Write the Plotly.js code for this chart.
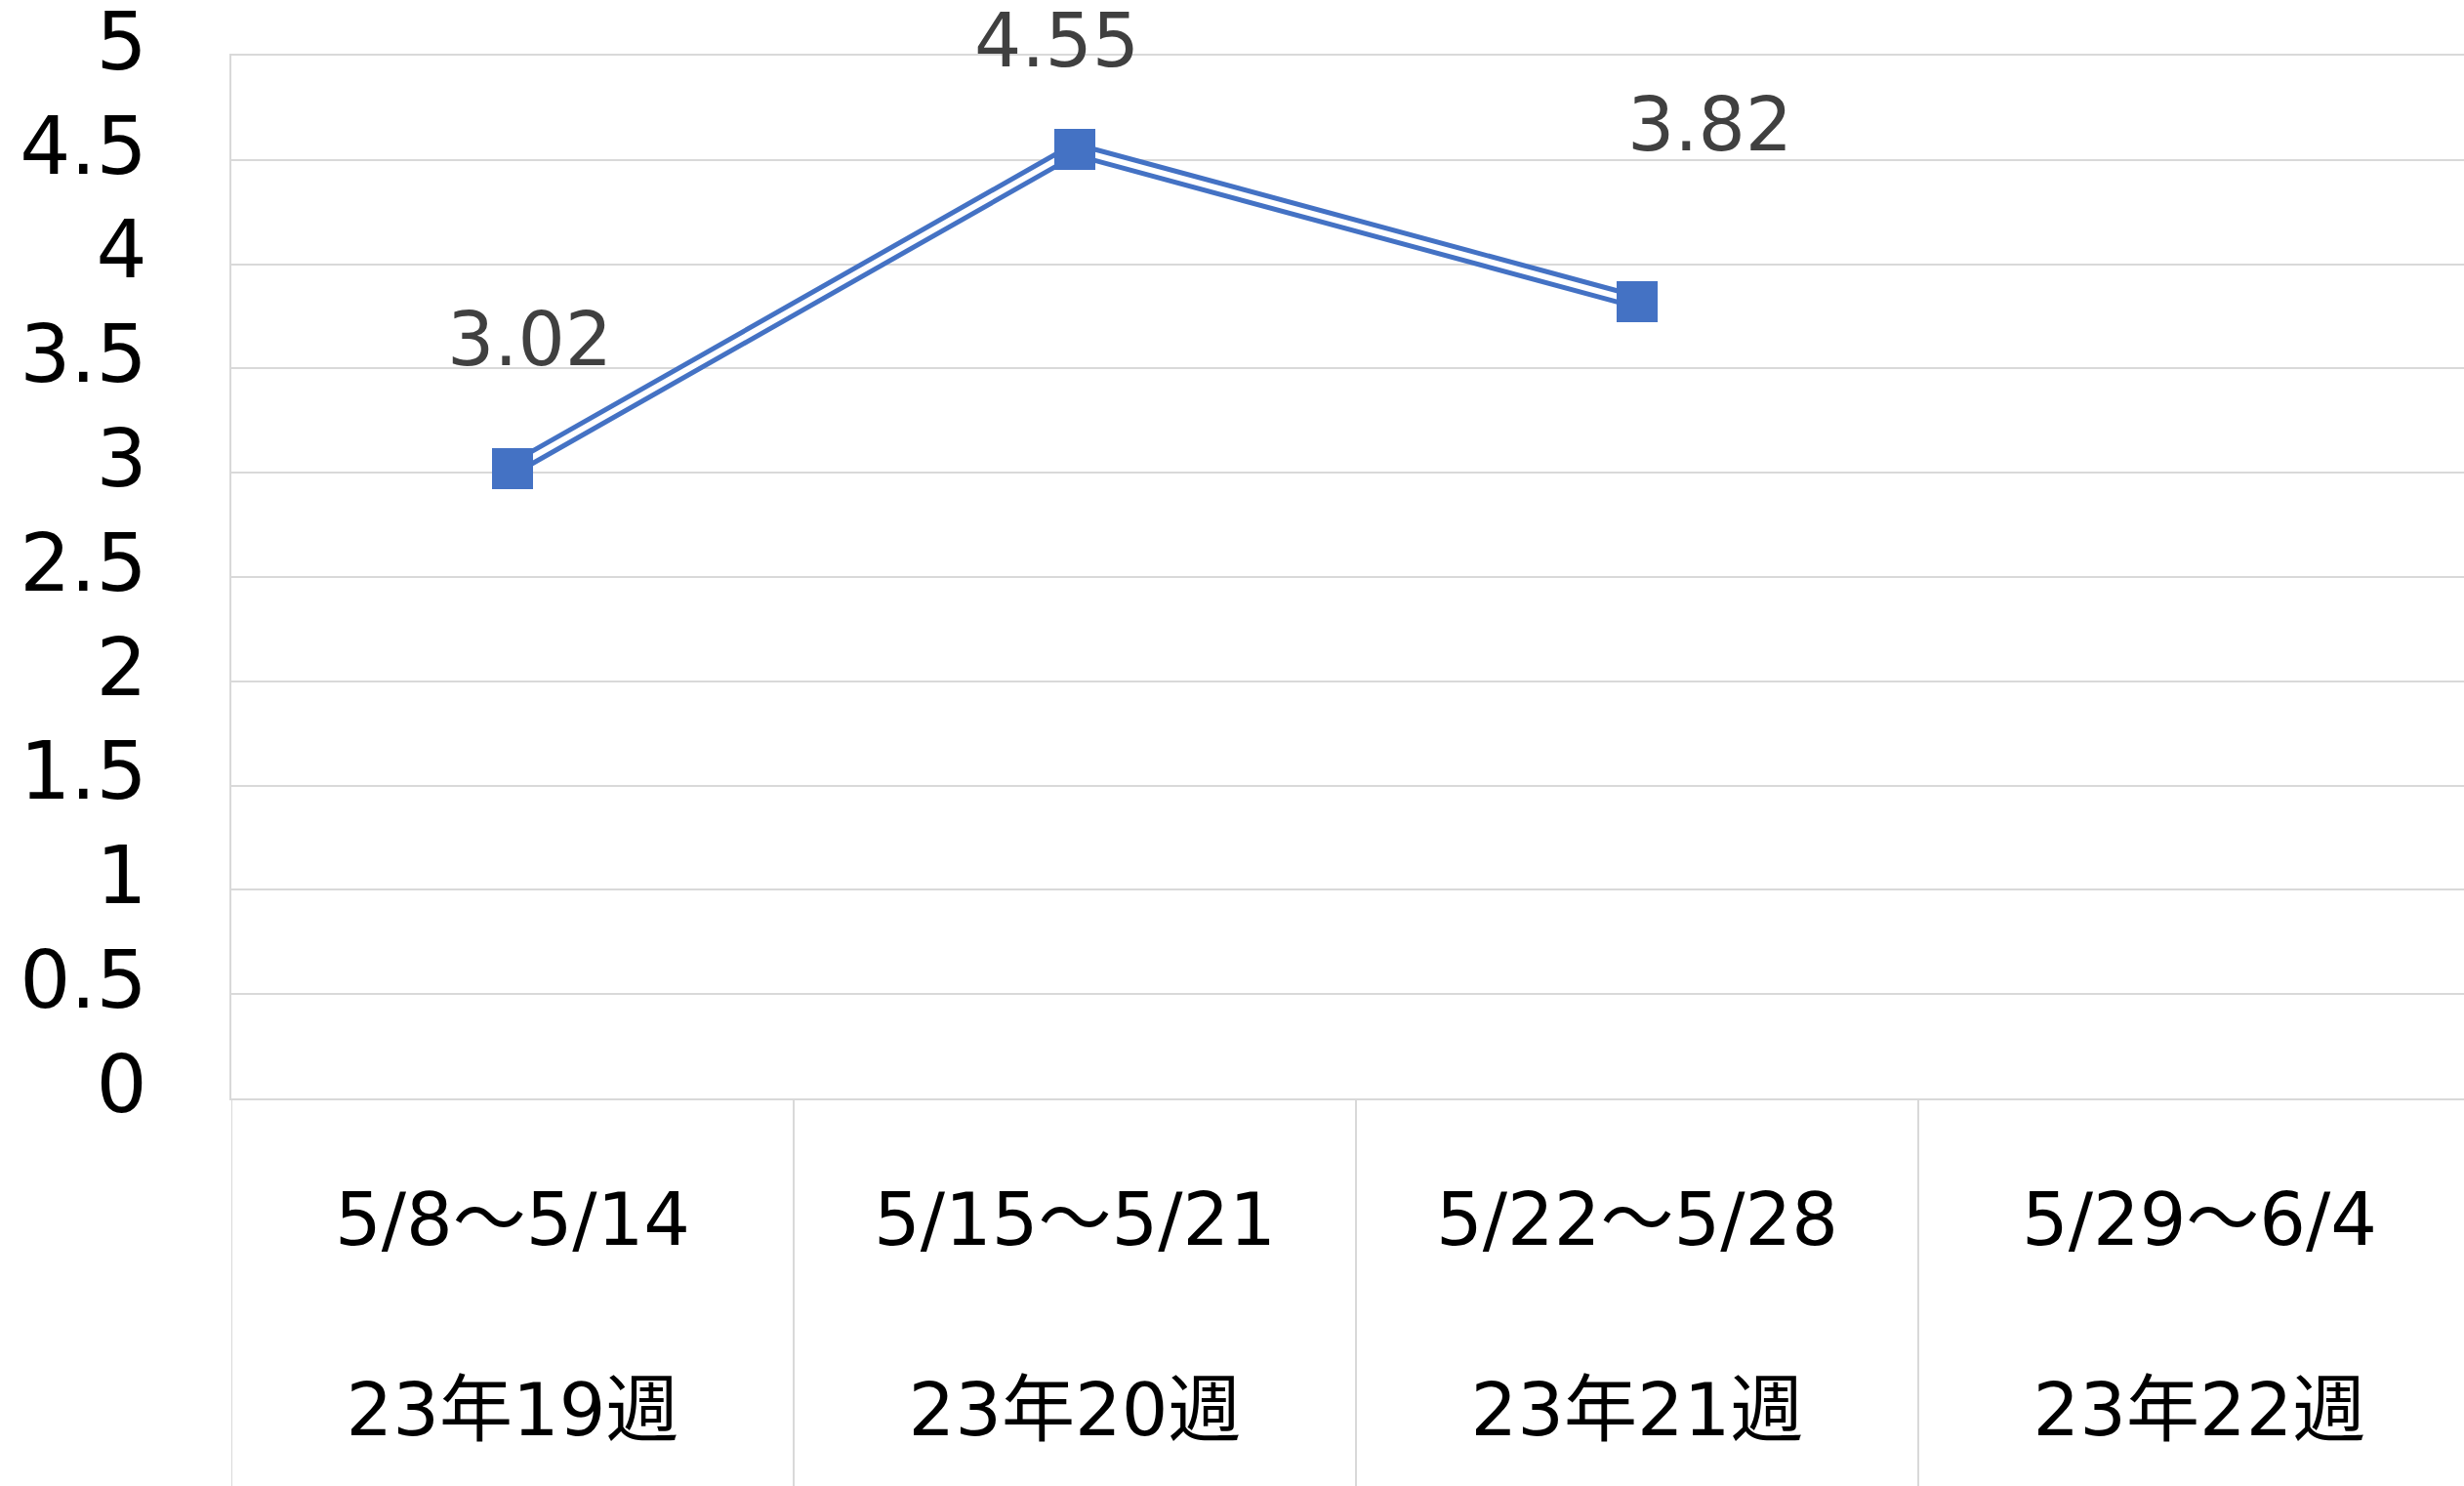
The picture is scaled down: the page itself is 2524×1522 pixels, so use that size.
<!DOCTYPE html>
<html>
<head>
<meta charset="utf-8">
<script src="https://cdn.plot.ly/plotly-3.0.1.min.js"></script>
<style>
html,body{margin:0;padding:0;overflow:hidden;background:#fff;}
#chart{width:2524px;height:1522px;}
</style>
</head>
<body>
<div id="chart"></div>
<script>
// ---- data ----
const weeks = ['5/8～5/14', '5/15～5/21', '5/22～5/28', '5/29～6/4'];
const weekNums = ['23年19週', '23年20週', '23年21週', '23年22週'];
const values = [3.02, 4.55, 3.82, null];
const valueLabels = ['3.02', '4.55', '3.82', ''];
const yTickVals = [0, 0.5, 1, 1.5, 2, 2.5, 3, 3.5, 4, 4.5, 5];
const yTickText = ['0', '0.5', '1', '1.5', '2', '2.5', '3', '3.5', '4', '4.5', '5'];

// ---- styles ----
const BLUE = '#4472C4';
const GRID = '#d9d9d9';
const labelOffsets = [[17, 132], [-19, 112], [75, 182]];

const traces = [
  {x: weeks, y: values, type: 'scatter', mode: 'lines',
   line: {color: BLUE, width: 16}, hoverinfo: 'skip', showlegend: false},
  {x: weeks, y: values, type: 'scatter', mode: 'lines',
   line: {color: '#ffffff', width: 6}, hoverinfo: 'skip', showlegend: false},
  {x: weeks, y: values, type: 'scatter', mode: 'markers',
   marker: {symbol: 'square', size: 42, color: BLUE, line: {width: 0}}, showlegend: false}
];

const annotations = [];
values.forEach((v, i) => {
  if (v === null) return;
  annotations.push({
    x: weeks[i], y: v, xref: 'x', yref: 'y', text: valueLabels[i], showarrow: false,
    xshift: labelOffsets[i][0], yshift: labelOffsets[i][1],
    font: {family: 'DejaVu Sans', size: 76, color: '#404040'}
  });
});

const shapes = [];
for (let i = 0; i < weeks.length; i++) {
  shapes.push({type: 'line', xref: 'x', yref: 'paper', x0: i - 0.5, x1: i - 0.5, y0: 0, y1: -0.4,
    line: {color: GRID, width: 2}, layer: 'below'});
}

const layout = {
  width: 2524, height: 1522,
  margin: {l: 237, r: 0, t: 57, b: 397},
  paper_bgcolor: '#ffffff', plot_bgcolor: '#ffffff',
  showlegend: false,
  xaxis: {
    type: 'category',
    range: [-0.5, 3.4705],
    tickvals: weeks,
    ticktext: weeks.map((w, i) => w + '<br><br>' + weekNums[i]),
    tickfont: {family: 'DejaVu Sans, Noto Sans CJK JP', size: 75, color: '#000000'},
    ticks: '', showgrid: false, zeroline: false,
    showline: true, mirror: true, linecolor: GRID, linewidth: 2,
    ticklabelstandoff: 58
  },
  yaxis: {
    range: [0, 5],
    tickvals: yTickVals, ticktext: yTickText,
    tickfont: {family: 'DejaVu Sans', size: 82, color: '#000000'},
    ticks: '', showgrid: true, gridcolor: GRID, gridwidth: 2,
    zeroline: false, showline: true, linecolor: GRID, linewidth: 2,
    ticklabelstandoff: 68, ticklabelshift: -15, ticklabeloverflow: 'allow'
  },
  shapes: shapes,
  annotations: annotations
};

Plotly.newPlot('chart', traces, layout, {displayModeBar: false, staticPlot: true});
</script>
</body>
</html>
